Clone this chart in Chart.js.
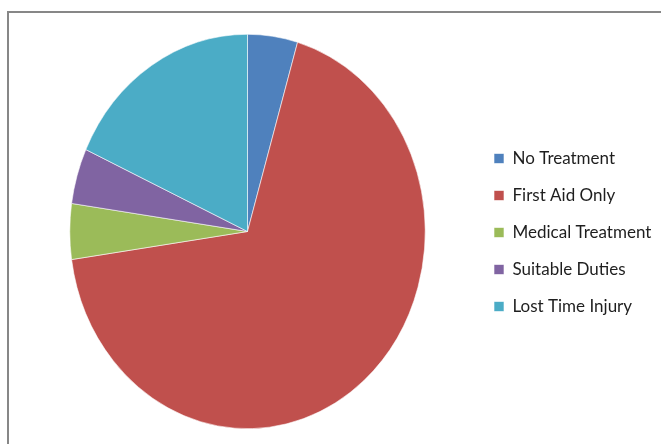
<!DOCTYPE html>
<html>
<head>
<meta charset="utf-8">
<script src="https://cdn.jsdelivr.net/npm/chart.js@4/dist/chart.umd.min.js"></script>
<style>
  html, body { margin:0; padding:0; background:#fff; overflow:hidden; }
  #wrap { position:relative; width:661px; height:444px; }
  #frame { position:absolute; left:7px; top:11px; width:700px; height:500px; border:2px solid #878787; box-sizing:border-box; }
  canvas { position:absolute; left:0; top:0; }
</style>
</head>
<body>
<div id="wrap">
  <div id="frame"></div>
  <canvas id="c" width="661" height="444"></canvas>
</div>
<script>
const categories = ["No Treatment", "First Aid Only", "Medical Treatment", "Suitable Duties", "Lost Time Injury"];
const counts = [1, 15, 1, 1, 4];
const colors = ["#4F81BD", "#C0504D", "#9BBB59", "#8064A2", "#4BACC6"];

const SX = 178 / 197.5;

const placeBoxes = {
  id: 'placeBoxes',
  afterLayout(chart) {
    const ca = chart.chartArea;
    chart.chartArea = { left: 21, top: ca.top, right: 474, bottom: ca.bottom, width: 453, height: ca.bottom - ca.top };
    if (chart.legend) {
      chart.legend.left = 474; chart.legend.right = 661; chart.legend.width = 187;
      chart.legend.top += 1; chart.legend.bottom += 1;
    }
  }
};
const squash = {
  id: 'squash',
  beforeDatasetsDraw(chart) {
    const a = chart.getDatasetMeta(0).data[0];
    const ctx = chart.ctx;
    ctx.save();
    ctx.translate(a.x, a.y);
    ctx.scale(SX, 1);
    ctx.translate(-a.x, -a.y);
  },
  afterDatasetsDraw(chart) { chart.ctx.restore(); }
};

new Chart(document.getElementById('c'), {
  type: 'pie',
  data: {
    labels: categories,
    datasets: [{
      data: counts,
      backgroundColor: colors,
      borderColor: '#ffffff',
      borderWidth: 0.6,
      clip: false
    }]
  },
  options: {
    responsive: false,
    animation: false,
    layout: { padding: { left: 21, top: 34, bottom: 15, right: 0 } },
    plugins: {
      tooltip: { enabled: false },
      legend: {
        position: 'right',
        labels: {
          boxWidth: 10,
          boxHeight: 10,
          padding: 20,
          color: '#1e1e1e',
          font: { family: 'Lato', size: 17 }
        }
      }
    }
  },
  plugins: [placeBoxes, squash]
});
</script>
</body>
</html>
